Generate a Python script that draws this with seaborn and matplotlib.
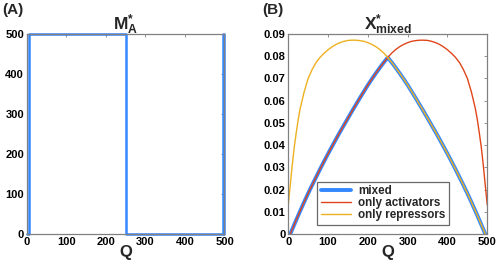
import numpy as np
import pandas as pd
import matplotlib
matplotlib.use("Agg")
import matplotlib.pyplot as plt
import seaborn as sns

# ---- panel A : M_A* (step) ----
q_step = [0, 7, 252, 495, 500]
m_step = [0, 500, 0, 500, 0]

# ---- panel B : X*_mixed ----
q_act = [5, 10, 20, 30, 40, 50, 60, 70, 80, 90, 100, 110, 120, 130, 140, 150,
         160, 170, 180, 190, 200, 210, 220, 230, 240, 250, 260, 270, 280, 290,
         300, 310, 320, 330, 340, 350, 360, 370, 380, 390, 400, 410, 420, 430,
         440, 450, 460, 470, 475, 480, 485, 490, 495, 500]
x_act = [0.0000, 0.0021, 0.0063, 0.0104, 0.0144, 0.0183, 0.0220, 0.0256,
         0.0292, 0.0327, 0.0361, 0.0394, 0.0427, 0.0459, 0.0490, 0.0521,
         0.0552, 0.0582, 0.0612, 0.0641, 0.0670, 0.0697, 0.0723, 0.0748,
         0.0772, 0.0794, 0.0814, 0.0830, 0.0843, 0.0853, 0.0861, 0.0867,
         0.0870, 0.0872, 0.0872, 0.0871, 0.0867, 0.0861, 0.0853, 0.0842,
         0.0829, 0.0813, 0.0795, 0.0772, 0.0740, 0.0700, 0.0640, 0.0565,
         0.0515, 0.0455, 0.0390, 0.0310, 0.0220, 0.0130]

q_rep = [0, 5, 10, 15, 20, 25, 30, 40, 50, 60, 70, 80, 90, 100, 110, 120, 130,
         140, 150, 160, 170, 180, 190, 200, 210, 220, 230, 240, 250, 260, 270,
         280, 290, 300, 310, 320, 330, 340, 350, 360, 370, 380, 390, 400, 410,
         420, 430, 440, 450, 460, 470, 480, 490, 495]
x_rep = [0.0130, 0.0220, 0.0310, 0.0390, 0.0455, 0.0515, 0.0565, 0.0640,
         0.0700, 0.0740, 0.0772, 0.0795, 0.0813, 0.0829, 0.0842, 0.0853,
         0.0861, 0.0867, 0.0871, 0.0872, 0.0872, 0.0870, 0.0867, 0.0861,
         0.0853, 0.0843, 0.0830, 0.0814, 0.0794, 0.0772, 0.0748, 0.0723,
         0.0697, 0.0670, 0.0641, 0.0612, 0.0582, 0.0552, 0.0521, 0.0490,
         0.0459, 0.0427, 0.0394, 0.0361, 0.0327, 0.0292, 0.0256, 0.0220,
         0.0183, 0.0144, 0.0104, 0.0063, 0.0021, 0.0000]

q_mix = [5, 10, 20, 30, 40, 50, 60, 70, 80, 90, 100, 110, 120, 130, 140, 150,
         160, 170, 180, 190, 200, 210, 220, 230, 240, 250, 260, 270, 280, 290,
         300, 310, 320, 330, 340, 350, 360, 370, 380, 390, 400, 410, 420, 430,
         440, 450, 460, 470, 480, 490, 495]
x_mix = [0.0000, 0.0021, 0.0063, 0.0104, 0.0144, 0.0183, 0.0220, 0.0256,
         0.0292, 0.0327, 0.0361, 0.0394, 0.0427, 0.0459, 0.0490, 0.0521,
         0.0552, 0.0582, 0.0612, 0.0641, 0.0670, 0.0697, 0.0723, 0.0748,
         0.0772, 0.0794, 0.0772, 0.0748, 0.0723, 0.0697, 0.0670, 0.0641,
         0.0612, 0.0582, 0.0552, 0.0521, 0.0490, 0.0459, 0.0427, 0.0394,
         0.0361, 0.0327, 0.0292, 0.0256, 0.0220, 0.0183, 0.0144, 0.0104,
         0.0063, 0.0021, 0.0000]

a_yticks = [0, 100, 200, 300, 400, 500]
b_yticks = [0, 0.01, 0.02, 0.03, 0.04, 0.05, 0.06, 0.07, 0.08, 0.09]
b_ylabels = ["0", "0.01", "0.02", "0.03", "0.04", "0.05", "0.06", "0.07", "0.08", "0.09"]
q_ticks = [0, 100, 200, 300, 400, 500]

BLUE, RED, YEL = "#3388ff", "#e0451a", "#edb120"
GREY = "#808080"

sns.set_style("white")
plt.rcParams["font.family"] = ["Liberation Sans", "DejaVu Sans"]
plt.rcParams["font.weight"] = "bold"
plt.rcParams["mathtext.fontset"] = "custom"
plt.rcParams["mathtext.bf"] = "Liberation Sans:bold"
plt.rcParams["mathtext.rm"] = "Liberation Sans:bold"

fig = plt.figure(figsize=(4.97, 2.66), dpi=100)
axA = fig.add_axes([0.0537, 0.1203, 0.398, 0.752])
axB = fig.add_axes([0.580, 0.1203, 0.4004, 0.752])


def style_ax(ax):
    for s in ax.spines.values():
        s.set_color(GREY)
        s.set_linewidth(0.9)
    ax.tick_params(direction="in", length=2.5, width=0.6, color=GREY,
                   top=True, right=True, labelsize=8, pad=2, labelcolor="black")
    for lab in ax.get_xticklabels() + ax.get_yticklabels():
        lab.set_fontweight("bold")
    ax.set_xlabel("Q", fontsize=12, fontweight="bold", labelpad=-1)
    ax.set_ylabel("")


# A
dfA = pd.DataFrame({"Q": q_step, "M": m_step})
sns.lineplot(data=dfA, x="Q", y="M", ax=axA, color=BLUE, lw=1.8,
             drawstyle="steps-post", estimator=None, sort=False, clip_on=False)
axA.set_xlim(0, 500)
axA.set_ylim(0, 500)
axA.set_xticks(q_ticks)
axA.set_yticks(a_yticks)
style_ax(axA)
axA.set_title(r"$\mathbf{M_{A}^{*}}$", fontsize=12.5, pad=3)

# B
sns.lineplot(x=q_mix, y=x_mix, ax=axB, color=BLUE, lw=2.8, label="mixed",
             estimator=None, sort=False)
sns.lineplot(x=q_act, y=x_act, ax=axB, color=RED, lw=1.0, label="only activators",
             estimator=None, sort=False)
sns.lineplot(x=q_rep, y=x_rep, ax=axB, color=YEL, lw=1.0, label="only repressors",
             estimator=None, sort=False)
axB.set_xlim(0, 500)
axB.set_ylim(0, 0.09)
axB.set_xticks(q_ticks)
axB.set_yticks(b_yticks)
axB.set_yticklabels(b_ylabels)
style_ax(axB)
axB.set_title(r"$\mathbf{X_{mixed}^{*}}$", fontsize=12.5, pad=3)
leg = axB.legend(loc="lower left", bbox_to_anchor=(0.145, 0.045), fontsize=8.4,
                 frameon=True, fancybox=False, borderpad=0.3, labelspacing=0.02,
                 handlelength=2.6, handletextpad=0.6, borderaxespad=0)
leg.get_frame().set_edgecolor("#444444")
leg.get_frame().set_linewidth(0.9)
for t in leg.get_texts():
    t.set_fontweight("bold")

fig.text(0.004, 0.962, "(A)", fontsize=11, fontweight="bold", va="center", ha="left")
fig.text(0.528, 0.962, "(B)", fontsize=11, fontweight="bold", va="center", ha="left")

fig.savefig("out.png", dpi=100)
